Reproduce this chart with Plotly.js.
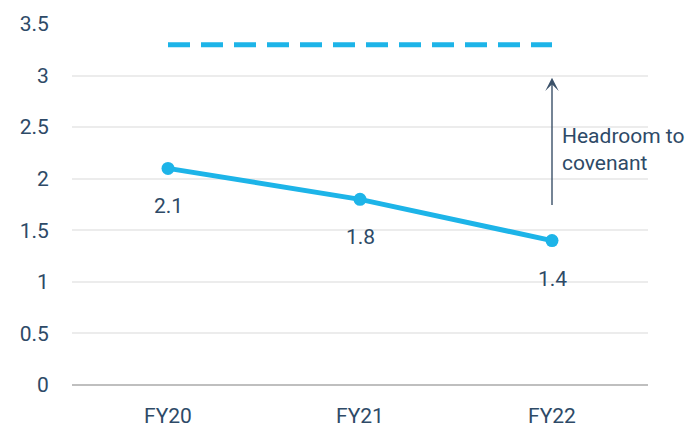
<!DOCTYPE html>
<html>
<head>
<meta charset="utf-8">
<script src="https://cdn.plot.ly/plotly-3.0.1.min.js"></script>
<style>html,body{margin:0;padding:0;background:#fff}#chart{width:689px;height:431px}</style>
</head>
<body>
<div id="chart"></div>
<script>
var categories = ['FY20', 'FY21', 'FY22'];
var leverage = [2.1, 1.8, 1.4];
var covenant = [3.3, 3.3, 3.3];
var valueLabels = ['2.1', '1.8', '1.4'];
var arrowFrom = 1.73;
var arrowTo = 2.98;
var arrowText = 'Headroom to<br>covenant';
var yTicks = [0, 0.5, 1, 1.5, 2, 2.5, 3, 3.5];

var blue = '#1db4e8';
var textCol = '#2e4a67';
var fontFam = 'Roboto, "Open Sans", sans-serif';

var traces = [
  {x: categories, y: covenant, type: 'scatter', mode: 'lines',
   line: {color: blue, width: 5, dash: '22px,11px'}, hoverinfo: 'skip'},
  {x: categories, y: leverage, type: 'scatter', mode: 'lines+markers',
   line: {color: blue, width: 5}, marker: {color: blue, size: 13}}
];

var annotations = categories.map(function (c, i) {
  return {x: c, y: leverage[i], text: valueLabels[i], showarrow: false,
          yshift: -38, font: {size: 21, color: textCol, family: fontFam}};
});
annotations.push({
  x: 2, y: arrowTo, ax: 2, ay: arrowFrom, xref: 'x', yref: 'y', axref: 'x', ayref: 'y',
  showarrow: true, arrowhead: 3, arrowsize: 1.6, arrowwidth: 1.4, arrowcolor: '#3b5169', text: ''
});
annotations.push({
  x: 2, y: 2.28, xref: 'x', yref: 'y', xanchor: 'left', yanchor: 'middle', xshift: 8,
  text: arrowText, showarrow: false, align: 'left',
  font: {size: 21, color: textCol, family: fontFam}
});

var layout = {
  width: 689, height: 431,
  margin: {l: 72, r: 41, t: 24, b: 46},
  paper_bgcolor: '#fff', plot_bgcolor: '#fff',
  showlegend: false,
  font: {family: fontFam, color: textCol},
  xaxis: {type: 'category', range: [-0.5, 2.5], showgrid: false, zeroline: false,
          showline: false, ticks: 'outside', ticklen: 12, tickcolor: 'rgba(0,0,0,0)',
          tickfont: {size: 21, color: textCol, family: fontFam}, fixedrange: true},
  yaxis: {range: [0, 3.5], tickvals: yTicks, ticktext: yTicks.map(String),
          showgrid: true, gridcolor: '#ececec', gridwidth: 2,
          zeroline: true, zerolinecolor: '#bfbfbf', zerolinewidth: 2,
          showline: false, ticks: 'outside', ticklen: 18, tickcolor: 'rgba(0,0,0,0)',
          tickfont: {size: 21, color: textCol, family: fontFam}, fixedrange: true},
  annotations: annotations
};

Plotly.newPlot('chart', traces, layout, {displayModeBar: false, staticPlot: true});
</script>
</body>
</html>
